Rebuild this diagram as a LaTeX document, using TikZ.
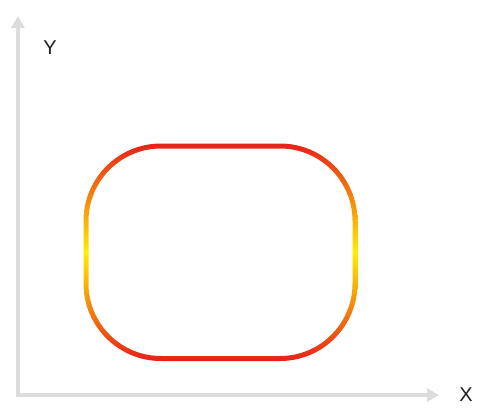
\documentclass[tikz,border=0pt]{standalone}
\usepackage{fontspec}
\setmainfont{Liberation Sans}
\usetikzlibrary{arrows.meta}
\definecolor{axisgray}{HTML}{DCDCDC}
\definecolor{ringred}{HTML}{E8201A}
\definecolor{ringyellow}{HTML}{FFEE00}
\definecolor{labelink}{HTML}{231F20}
\tikzset{
  axisline/.style={draw=axisgray, line width=4pt, -{Triangle[length=12pt,width=13pt]}},
  axislabel/.style={font=\fontsize{20}{24}\selectfont, text=labelink, inner sep=0pt}
}
\begin{document}
\begin{tikzpicture}[x=1pt,y=-1pt]
\useasboundingbox (0,0) rectangle (478,417);
\coordinate (origin) at (16,395);
\coordinate (ytip) at (18,16);
\coordinate (xtip) at (439,395);
\draw[axisline] (18,397) -- (ytip);
\draw[axisline] (origin) -- (xtip);
\node[axislabel] (ylab) at (50,48) {Y};
\node[axislabel] (xlab) at (466,395) {X};
\shade[even odd rule, top color=ringred, bottom color=ringred, middle color=ringyellow]
  (83.5,143.5) [rounded corners=77.5pt] rectangle (357.5,361)
  (88.5,148.5) [rounded corners=72.5pt] rectangle (352.5,356);
\end{tikzpicture}
\end{document}
